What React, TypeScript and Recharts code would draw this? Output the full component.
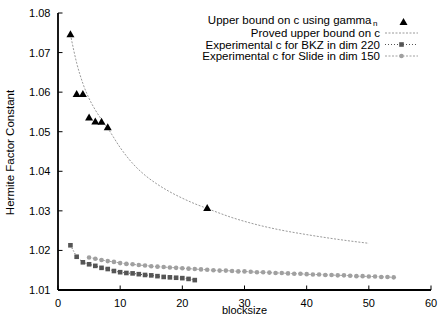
import React from "react";
import { LineChart, Line, XAxis, YAxis, Legend, Label } from "recharts";

// ---- data ----
const gammaBlocksizes = [2, 3, 4, 5, 6, 7, 8, 24];
const gammaValues = [1.0746, 1.0595, 1.0595, 1.0536, 1.0526, 1.0525, 1.0511, 1.0307];

const provedBlocksizes = [2, 3, 4, 5, 6, 7, 8, 10, 12, 14, 16, 18, 20, 22, 24, 28, 32, 36, 40, 45, 50];
const provedValues = [
  1.0746, 1.0674, 1.0622, 1.0584, 1.0555, 1.0531, 1.0509, 1.046, 1.042, 1.039, 1.0367, 1.0348,
  1.0332, 1.0318, 1.0306, 1.0283, 1.0265, 1.0251, 1.024, 1.0228, 1.0218,
];

const bkzBlocksizes = [2, 3, 4, 5, 6, 7, 8, 9, 10, 11, 12, 13, 14, 15, 16, 17, 18, 19, 20, 21, 22];
const bkzValues = [
  1.0213, 1.0184, 1.017, 1.0165, 1.0161, 1.0156, 1.0153, 1.0148, 1.0145, 1.0143, 1.0142, 1.014,
  1.0138, 1.0137, 1.0135, 1.0133, 1.0132, 1.0131, 1.013, 1.0128, 1.0125,
];

const slideBlocksizes = [
  5, 6, 7, 8, 9, 10, 11, 12, 13, 14, 15, 16, 17, 18, 19, 20, 21, 22, 23, 24, 25, 26, 27, 28, 29,
  30, 31, 32, 33, 34, 35, 36, 37, 38, 39, 40, 41, 42, 43, 44, 45, 46, 47, 48, 49, 50, 51, 52, 53, 54,
];
const slideValues = [
  1.0182, 1.0179, 1.0176, 1.0173, 1.0171, 1.0168, 1.0166, 1.0165, 1.0163, 1.0162, 1.016, 1.0159,
  1.0158, 1.0157, 1.0156, 1.0155, 1.0154, 1.0153, 1.0152, 1.0151, 1.015, 1.0149, 1.0149, 1.0148,
  1.0147, 1.0147, 1.0146, 1.0145, 1.0145, 1.0144, 1.0143, 1.0143, 1.0142, 1.0141, 1.0141, 1.014,
  1.0139, 1.0139, 1.0138, 1.0138, 1.0137, 1.0137, 1.0136, 1.0135, 1.0135, 1.0134, 1.0134, 1.0133,
  1.0133, 1.0132,
];

const xTicks = [0, 10, 20, 30, 40, 50, 60];
const yTicks = [1.01, 1.02, 1.03, 1.04, 1.05, 1.06, 1.07, 1.08];

const legendLabels = [
  "Upper bound on c using gamma",
  "Proved upper bound on c",
  "Experimental c for BKZ in dim 220",
  "Experimental c for Slide in dim 150",
];

const toRows = (xs: number[], ys: number[]) => xs.map((x, i) => ({ x, c: ys[i] }));
const gammaData = toRows(gammaBlocksizes, gammaValues);
const provedData = toRows(provedBlocksizes, provedValues);
const bkzData = toRows(bkzBlocksizes, bkzValues);
const slideData = toRows(slideBlocksizes, slideValues);

const FONT = "'Liberation Sans', Arial, Helvetica, sans-serif";
const PROVED_COLOR = "#9a9a9a";
const BKZ_COLOR = "#555555";
const SLIDE_COLOR = "#a0a0a0";
const TICK_LEN = 4.5;

const triangle = (cx: number, cy: number, key?: any) => (
  <polygon
    key={key}
    points={`${cx},${cy - 4} ${cx - 4},${cy + 3} ${cx + 4},${cy + 3}`}
    fill="#000"
  />
);

const TriangleDot = (p: any) => {
  if (p.cx == null || p.cy == null) return <g key={p.index} />;
  return triangle(p.cx, p.cy, p.index);
};
const SquareDot = (p: any) => {
  if (p.cx == null || p.cy == null) return <g key={p.index} />;
  return <rect key={p.index} x={p.cx - 2.3} y={p.cy - 2.3} width={4.6} height={4.6} fill={BKZ_COLOR} />;
};
const CircleDot = (p: any) => {
  if (p.cx == null || p.cy == null) return <g key={p.index} />;
  return <circle key={p.index} cx={p.cx} cy={p.cy} r={2.3} fill={SLIDE_COLOR} />;
};

const BottomTick = (p: any) => (
  <g>
    <line x1={p.x} y1={p.y} x2={p.x} y2={p.y - TICK_LEN} stroke="#000" strokeWidth={1} />
    <text x={p.x} y={p.y + 16.5} textAnchor="middle" fontFamily={FONT} fontSize={11} fill="#000">
      {p.payload.value}
    </text>
  </g>
);
const TopTick = (p: any) => (
  <line x1={p.x} y1={p.y} x2={p.x} y2={p.y + TICK_LEN} stroke="#000" strokeWidth={1} />
);
const LeftTick = (p: any) => (
  <g>
    <line x1={p.x} y1={p.y} x2={p.x + TICK_LEN} y2={p.y} stroke="#000" strokeWidth={1} />
    <text x={p.x - 7.5} y={p.y + 4} textAnchor="end" fontFamily={FONT} fontSize={11} fill="#000">
      {Number(p.payload.value).toFixed(2)}
    </text>
  </g>
);
const RightTick = (p: any) => (
  <line x1={p.x} y1={p.y} x2={p.x - TICK_LEN} y2={p.y} stroke="#000" strokeWidth={1} />
);

const LegendContent = () => {
  const textRight = 380;
  const sx1 = 385;
  const sx2 = 418;
  const mid = (sx1 + sx2) / 2;
  const rows = [20, 33, 44.5, 56];
  return (
    <svg width={438} height={70} style={{ display: "block" }}>
      <g fontFamily={FONT} fontSize={11.5} fill="#000">
        <text x={textRight - 8.5} y={rows[0] + 4} textAnchor="end">
          {legendLabels[0]}
        </text>
        <text x={textRight - 2.5} y={rows[0] + 6} textAnchor="end" fontSize={8}>
          n
        </text>
        <text x={textRight} y={rows[1] + 4} textAnchor="end">
          {legendLabels[1]}
        </text>
        <text x={textRight} y={rows[2] + 4} textAnchor="end">
          {legendLabels[2]}
        </text>
        <text x={textRight} y={rows[3] + 4} textAnchor="end">
          {legendLabels[3]}
        </text>
      </g>
      {triangle(mid + 2, rows[0] + 2)}
      <line x1={sx1} y1={rows[1]} x2={sx2} y2={rows[1]} stroke={PROVED_COLOR} strokeWidth={1} strokeDasharray="2 1.5" />
      <line x1={sx1} y1={rows[2]} x2={sx2} y2={rows[2]} stroke={BKZ_COLOR} strokeWidth={1} strokeDasharray="1 2" />
      <rect x={mid - 2.3} y={rows[2] - 2.3} width={4.6} height={4.6} fill={BKZ_COLOR} />
      <line x1={sx1} y1={rows[3]} x2={sx2} y2={rows[3]} stroke={SLIDE_COLOR} strokeWidth={1} strokeDasharray="2 1.5" />
      <circle cx={mid} cy={rows[3]} r={2.3} fill={SLIDE_COLOR} />
    </svg>
  );
};

const YTitle = (props: any) => {
  const vb = props.viewBox || { x: 0, y: 0, width: 0, height: 0 };
  const cx = vb.x + 10;
  const cy = vb.y + vb.height / 2 + 1;
  return (
    <text
      x={cx}
      y={cy}
      transform={`rotate(-90, ${cx}, ${cy})`}
      textAnchor="middle"
      dominantBaseline="central"
      fontFamily={FONT}
      fontSize={11.5}
      fill="#000"
    >
      Hermite Factor Constant
    </text>
  );
};

const XTitle = (props: any) => {
  const vb = props.viewBox || { x: 0, y: 0, width: 0, height: 0 };
  return (
    <text x={vb.x + vb.width / 2} y={vb.y + 24} textAnchor="middle" fontFamily={FONT} fontSize={11} fill="#000">
      blocksize
    </text>
  );
};

const axisLine = { stroke: "#000", strokeWidth: 1.8 };

export default function App() {
  return (
    <div style={{ position: "absolute", left: 0, top: 0, width: 438, height: 318, background: "#fff" }}>
      <LineChart width={438} height={318} margin={{ top: 13, right: 7, bottom: 0, left: 0 }}>
        <XAxis
          type="number"
          dataKey="x"
          domain={[0, 60]}
          ticks={xTicks}
          allowDataOverflow
          height={28}
          tickSize={0}
          tickMargin={0}
          axisLine={axisLine}
          tick={<BottomTick />}
          interval={0}
        >
          <Label content={<XTitle />} />
        </XAxis>
        <XAxis
          xAxisId="top"
          orientation="top"
          type="number"
          dataKey="x"
          domain={[0, 60]}
          ticks={xTicks}
          height={0}
          tickSize={0}
          tickMargin={0}
          axisLine={axisLine}
          tick={<TopTick />}
          interval={0}
        />
        <YAxis
          type="number"
          domain={[1.01, 1.08]}
          ticks={yTicks}
          allowDataOverflow
          width={58}
          tickSize={0}
          tickMargin={0}
          axisLine={axisLine}
          tick={<LeftTick />}
          interval={0}
        >
          <Label content={<YTitle />} />
        </YAxis>
        <YAxis
          yAxisId="right"
          orientation="right"
          type="number"
          domain={[1.01, 1.08]}
          ticks={yTicks}
          width={0}
          tickSize={0}
          tickMargin={0}
          axisLine={axisLine}
          tick={<RightTick />}
          interval={0}
        />
        <Legend
          layout="vertical"
          align="center"
          verticalAlign="middle"
          wrapperStyle={{ left: 0, top: 0, width: 438, height: 70 }}
          content={<LegendContent />}
        />
        <Line
          data={gammaData}
          dataKey="c"
          name="Upper bound on c using gamma_n"
          stroke="none"
          dot={TriangleDot}
          activeDot={false}
          isAnimationActive={false}
        />
        <Line
          data={provedData}
          dataKey="c"
          name="Proved upper bound on c"
          type="monotone"
          stroke={PROVED_COLOR}
          strokeWidth={1}
          strokeDasharray="2 1.5"
          dot={false}
          activeDot={false}
          isAnimationActive={false}
        />
        <Line
          data={slideData}
          dataKey="c"
          name="Experimental c for Slide in dim 150"
          stroke={SLIDE_COLOR}
          strokeWidth={1}
          strokeDasharray="2 1.5"
          dot={CircleDot}
          activeDot={false}
          isAnimationActive={false}
        />
        <Line
          data={bkzData}
          dataKey="c"
          name="Experimental c for BKZ in dim 220"
          stroke={BKZ_COLOR}
          strokeWidth={1}
          strokeDasharray="1 2"
          dot={SquareDot}
          activeDot={false}
          isAnimationActive={false}
        />
      </LineChart>
    </div>
  );
}
